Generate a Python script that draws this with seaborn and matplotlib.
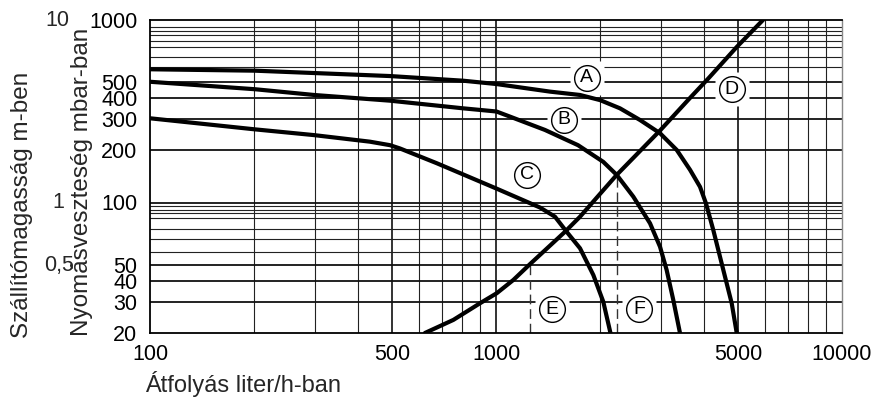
import numpy as np
import pandas as pd
import matplotlib
matplotlib.use("Agg")
import matplotlib.pyplot as plt
import matplotlib.transforms as mtransforms
import seaborn as sns

# ---------------- data ----------------
x_A = [100, 201, 494, 803, 1003, 1433, 1749, 1999, 2282, 2608, 2979, 3330, 3637, 3887, 4045, 4246, 4539, 4800, 4963]
y_A = [578, 569, 536, 509, 488, 439, 419, 390, 348, 296, 249, 200, 154, 123, 99, 73.7, 46.6, 29.4, 20]

x_B = [100, 201, 298, 494, 803, 1003, 1098, 1385, 1726, 2042, 2233, 2494, 2787, 2979, 3113, 3254, 3402]
y_B = [503, 454, 419, 387, 348, 333, 310, 260, 213, 171, 144, 108, 79.4, 61.2, 46.6, 30.7, 20]

x_C = [100, 201, 298, 432, 494, 528, 674, 1005, 1340, 1481, 1600, 1749, 1911, 2042, 2142]
y_C = [303, 262, 243, 223, 213, 204, 168, 120, 94.6, 85.4, 72.3, 60.2, 43.4, 30, 20]

x_D = [623, 753, 899, 1005, 1122, 1254, 1583, 1749, 2233, 2979, 3637, 4109, 4972, 5911]
y_D = [20, 23.7, 29.4, 33.7, 40.4, 50.5, 72.3, 85.4, 144, 258, 402, 522, 743, 1000]

# dashed reference lines E and F (flow, from bottom up to curve)
x_E = [1250, 1250]
y_E = [20, 50]
x_F = [2240, 2240]
y_F = [20, 143]

curve_labels = ["A", "B", "C", "D", "E", "F"]
label_x = [1829, 1572, 1232, 4800, 1454, 2596]
label_y = [526, 298, 144, 454, 27.2, 27.2]

x_ticks = [100, 500, 1000, 5000, 10000]
x_ticklabels = ["100", "500", "1000", "5000", "10000"]
x_minor = [200, 300, 400, 600, 700, 800, 900, 2000, 3000, 4000, 6000, 7000, 8000, 9000]

y_ticks = [20, 30, 40, 50, 100, 200, 300, 400, 500, 1000]
y_ticklabels = ["20", "30", "40", "50", "100", "200", "300", "400", "500", "1000"]
y_minor = [57.6, 66.5, 74.5, 83.9, 88.7, 92, 96, 595, 664, 742, 794, 843, 889, 921]

m_values = [1000, 100, 50]
m_labels = ["10", "1", "0,5"]

# ---------------- y scale of the printed chart (non-uniform log) ----------------
_kv = np.log10(np.array([20, 30, 40, 50, 100, 200, 300, 400, 500, 1000], float))
_kp = 333 - np.array([333, 301.7, 280.7, 265, 202.5, 150, 119, 98.3, 82.3, 20], float)
_s0 = (_kp[1] - _kp[0]) / (_kv[1] - _kv[0])
_s1 = (_kp[-1] - _kp[-2]) / (_kv[-1] - _kv[-2])


def _fwd(v):
    lv = np.log10(np.clip(np.asarray(v, float), 1e-6, None))
    out = np.interp(lv, _kv, _kp)
    out = np.where(lv < _kv[0], _kp[0] + (lv - _kv[0]) * _s0, out)
    out = np.where(lv > _kv[-1], _kp[-1] + (lv - _kv[-1]) * _s1, out)
    return out


def _inv(p):
    p = np.asarray(p, float)
    lv = np.interp(p, _kp, _kv)
    lv = np.where(p < _kp[0], _kv[0] + (p - _kp[0]) / _s0, lv)
    lv = np.where(p > _kp[-1], _kv[-1] + (p - _kp[-1]) / _s1, lv)
    return 10 ** lv


# ---------------- figure ----------------
sns.set_style("white")
plt.rcParams["font.family"] = ["Liberation Sans", "DejaVu Sans"]

W, H = 883, 403
fig = plt.figure(figsize=(W / 100, H / 100), dpi=100)
ax = fig.add_axes([150 / W, 1 - 333 / H, 692 / W, 313 / H])
ax.set_xscale("log")
ax.set_yscale("function", functions=(_fwd, _inv))
ax.set_xlim(100, 10000)
ax.set_ylim(20, 1000)

# grid
for v in x_minor:
    ax.axvline(v, color="#222222", lw=0.8, zorder=1)
for v in x_ticks[1:-1]:
    ax.axvline(v, color="#111111", lw=1.2, zorder=1)
for v in y_minor:
    ax.axhline(v, color="#222222", lw=0.8, zorder=1)
for v in y_ticks[1:-1]:
    ax.axhline(v, color="#111111", lw=1.3, zorder=1)

# dashed lines
for xs, ys in [(x_E, y_E), (x_F, y_F)]:
    sns.lineplot(x=xs, y=ys, ax=ax, color="#333333", lw=1.0, linestyle=(0, (7, 3.5)),
                 sort=False, estimator=None, zorder=2)

# label backgrounds (white squares)
for lx, ly in zip(label_x, label_y):
    ax.plot([lx], [ly], marker="s", ms=24, mfc="white", mec="none", zorder=2.5)

# curves
for xs, ys in [(x_A, y_A), (x_B, y_B), (x_C, y_C), (x_D, y_D)]:
    sns.lineplot(x=xs, y=ys, ax=ax, color="black", lw=3.0, sort=False,
                 estimator=None, zorder=3)

# circled letters
for lab, lx, ly in zip(curve_labels, label_x, label_y):
    ax.plot([lx], [ly], marker="o", ms=18.5, mfc="white", mec="black", mew=1.0, zorder=4)
    ax.text(lx, ly, lab, ha="center", va="center", fontsize=14, zorder=5, color="black")

# ticks
ax.set_xticks(x_ticks)
ax.set_xticklabels(x_ticklabels)
ax.set_xticks([], minor=True)
ax.set_yticks(y_ticks)
ax.set_yticklabels(y_ticklabels)
ax.set_yticks([], minor=True)
ax.tick_params(axis="both", length=0, labelsize=15.5, colors="black")
ax.tick_params(axis="y", pad=9)
ax.tick_params(axis="x", pad=8)

# spines
for s in ["left", "bottom", "top"]:
    ax.spines[s].set_color("black")
    ax.spines[s].set_linewidth(1.3)
ax.spines["right"].set_color("#888888")
ax.spines["right"].set_linewidth(1.0)
for s in ax.spines.values():
    s.set_zorder(6)

# secondary (metre) labels
trans = mtransforms.blended_transform_factory(fig.transFigure, ax.transData)
m_x = [57 / W, 58.5 / W, 59 / W]
for v, t, xx in zip(m_values, m_labels, m_x):
    fig.text(xx, v, t, transform=trans, ha="center", va="center", fontsize=15.5)

# axis titles
fig.text(22 / W, 1 - 338 / H, "Szállítómagasság m-ben", rotation=90,
         ha="center", va="bottom", fontsize=17.5)
fig.text(82 / W, 1 - 336 / H, "Nyomásveszteség mbar-ban", rotation=90,
         ha="center", va="bottom", fontsize=17.5)
fig.text(145 / W, 1 - 392 / H, "Átfolyás liter/h-ban", ha="left", va="baseline",
         fontsize=17)

fig.savefig("out.png", dpi=100)
